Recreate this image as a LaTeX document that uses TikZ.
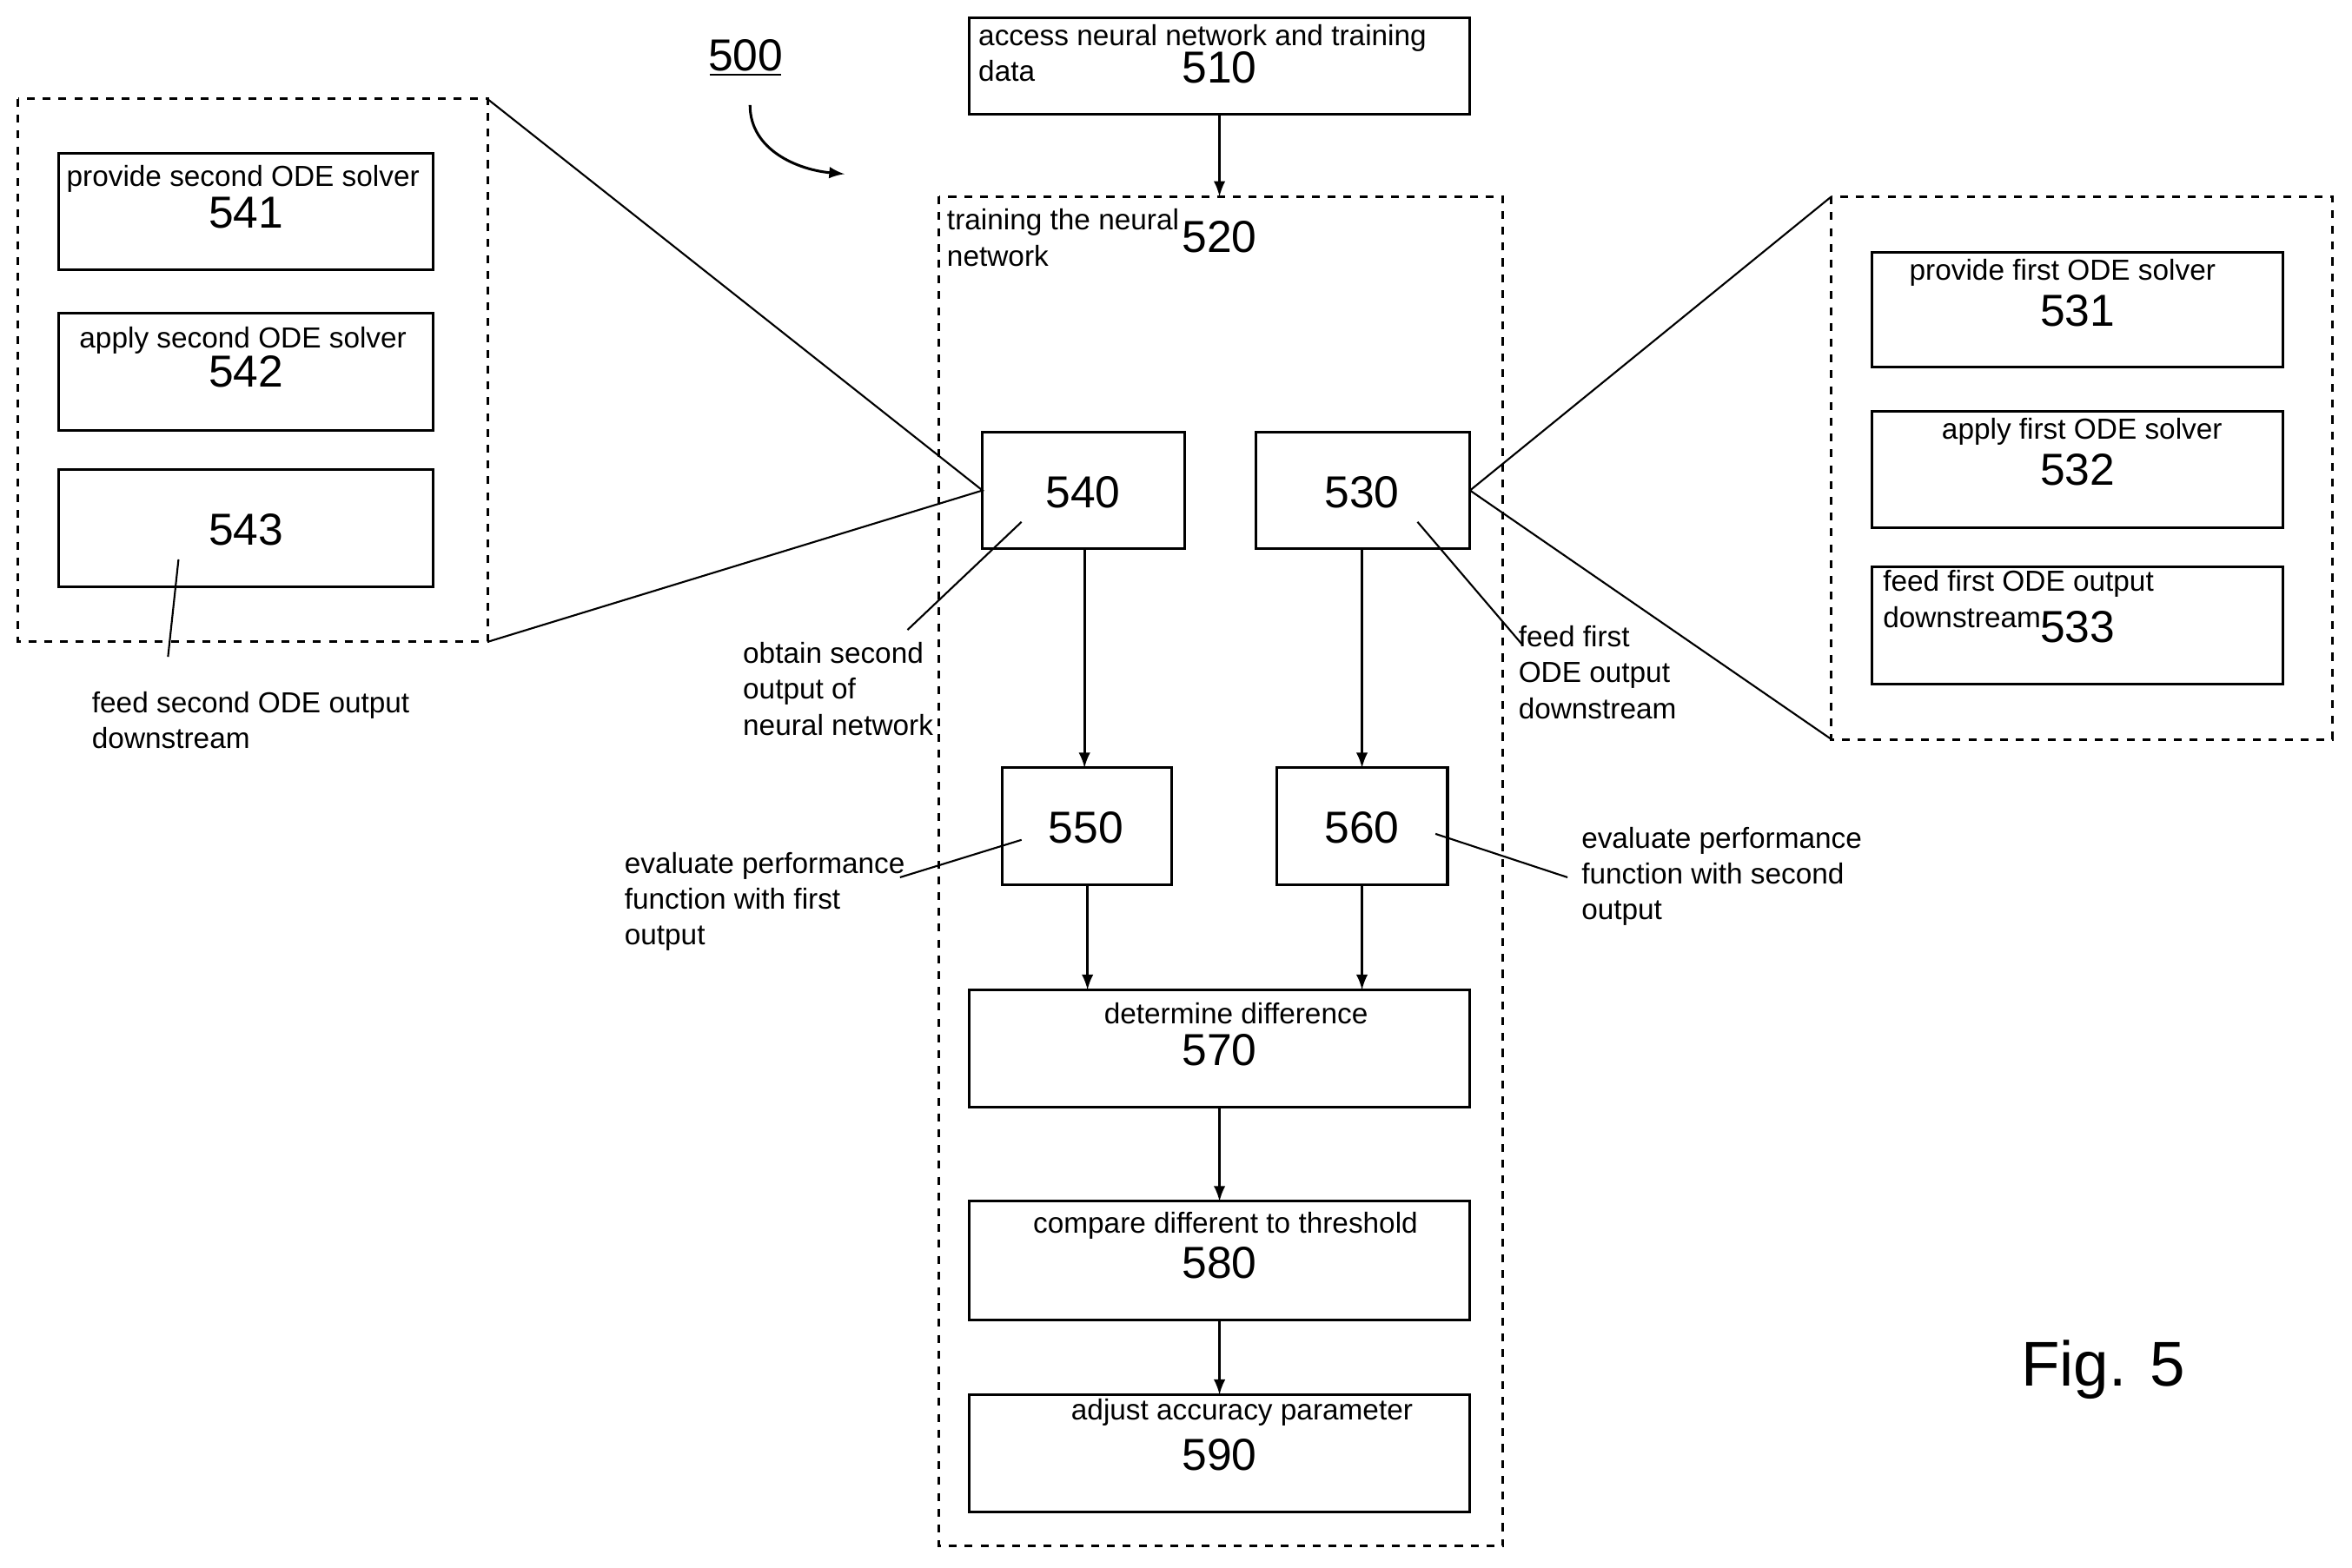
\documentclass[tikz,border=0pt]{standalone}
\usepackage{fontspec}
\setmainfont{Liberation Sans}
\usetikzlibrary{calc}
\begin{document}
\begin{tikzpicture}
		[x=0.02cm, y=-0.02cm,
			box/.style={draw, line width=1pt, inner sep=0pt},
			frame/.style={draw, dashed, line width=1pt},
			num/.style={font=\fontsize{17}{17}\selectfont, inner sep=0pt},
			lbl/.style={font=\fontsize{11}{13.6}\selectfont, inner sep=0pt, align=left},
			flow/.style={->, >=latex, line width=1pt},
			thin/.style={line width=0.7pt}]
		\useasboundingbox (0,0) rectangle (1568,1045);
		% define the boxes
		\draw[box] (646,12) rectangle (980,76) coordinate (b510);
		\draw[frame] (626,131) rectangle (1002,1031);
		\draw[box] (655,288) rectangle (790,366);
		\draw[box] (837,288) rectangle (980,366);
		\draw[box] (668,512) rectangle (781,590);
		\draw[box] (851,512) rectangle (965,590);
		\draw[box] (646,660) rectangle (980,738);
		\draw[box] (646,801) rectangle (980,880);
		\draw[box] (646,930) rectangle (980,1008);
		% zoomed views
		\draw[frame] (12,66) rectangle (325,428);
		\draw[box] (39,102) rectangle (289,180);
		\draw[box] (39,209) rectangle (289,287);
		\draw[box] (39,313) rectangle (289,391);
		\draw[frame] (1221,131) rectangle (1555,493);
		\draw[box] (1248,168) rectangle (1522,245);
		\draw[box] (1248,274) rectangle (1522,352);
		\draw[box] (1248,378) rectangle (1522,456);
		% define anchor points
		\coordinate (s510) at (813,76);
		\coordinate (n520) at (813,131);
		\coordinate (s540) at (723,366);
		\coordinate (n550) at (723,512);
		\coordinate (s530) at (908,366);
		\coordinate (n560) at (908,512);
		\coordinate (s550) at (725,590);
		\coordinate (s560) at (908,590);
		\coordinate (n570a) at (725,660);
		\coordinate (n570b) at (908,660);
		\coordinate (s570) at (813,738);
		\coordinate (n580) at (813,801);
		\coordinate (s580) at (813,880);
		\coordinate (n590) at (813,930);
		\coordinate (w540) at (655,327);
		\coordinate (e530) at (980,327);
		\coordinate (lt) at (325,66);
		\coordinate (lb) at (325,428);
		\coordinate (rt) at (1221,131);
		\coordinate (rb) at (1221,493);
		% the flow arrows
		\draw[flow] (s510) -- (n520);
		\draw[flow] (s540) -- (n550);
		\draw[flow] (s530) -- (n560);
		\draw[flow] (s550) -- (n570a);
		\draw[flow] (s560) -- (n570b);
		\draw[flow] (s570) -- (n580);
		\draw[flow] (s580) -- (n590);
		% zoom lines
		\draw[thin] (lt) -- (w540) -- (lb);
		\draw[thin] (rt) -- (e530) -- (rb);
		% numbers
		\node[num] (t510) at (813,45) {510};
		\node[num] (t520) at (813,158) {520};
		\node[num] (t540) at (722,328) {540};
		\node[num] (t530) at (908,328) {530};
		\node[num] (t550) at (724,552) {550};
		\node[num] (t560) at (908,552) {560};
		\node[num] (t570) at (813,700) {570};
		\node[num] (t580) at (813,842) {580};
		\node[num] (t590) at (813,970) {590};
		\node[num] (t541) at (164,142) {541};
		\node[num] (t542) at (164,248) {542};
		\node[num] (t543) at (164,353) {543};
		\node[num] (t531) at (1385,207) {531};
		\node[num] (t532) at (1385,313) {532};
		\node[num] (t533) at (1385,418) {533};
		% box captions
		\node[lbl, anchor=north west] (c510) at (652,16) {access neural network and training\\data};
		\node[lbl, anchor=north west] (c520) at (631,139) {training the neural\\network};
		\node[lbl] (c570) at (824,676) {determine difference};
		\node[lbl] (c580) at (817,817) {compare different to threshold};
		\node[lbl] (c590) at (828,942) {adjust accuracy parameter};
		\node[lbl] (c541) at (162,119) {provide second ODE solver};
		\node[lbl] (c542) at (162,227) {apply second ODE solver};
		\node[lbl] (c531) at (1375,182) {provide first ODE solver};
		\node[lbl] (c532) at (1388,288) {apply first ODE solver};
		\node[lbl, anchor=north west] (c533) at (1255,380) {feed first ODE output\\downstream};
		% side labels and leaders
		\node[lbl, anchor=north west] (o540) at (495,428) {obtain second\\output of\\neural network};
		\node[lbl, anchor=north west] (o530) at (1012,417) {feed first\\ODE output\\downstream};
		\node[lbl, anchor=north west] (o543) at (61,461) {feed second ODE output\\downstream};
		\node[lbl, anchor=north west] (o550) at (416,568) {evaluate performance\\function with first\\output};
		\node[lbl, anchor=north west] (o560) at (1054,551) {evaluate performance\\function with second\\output};
		\draw[thin] (605,420) -- (681,348);
		\draw[thin] (1015,430) -- (945,348);
		\draw[thin] (112,438) -- (119,373);
		\draw[thin] (600,585) -- (681,560);
		\draw[thin] (1045,585) -- (957,556);
		% figure reference
		\node[num, anchor=south] (t500) at (497,48) {500};
		\draw[thin] (473,50) -- (521,50);
		\draw[flow] (500,70) to[out=-90, in=175] (563,116);
		\node[font=\fontsize{24}{24}\selectfont, inner sep=0pt] (fig) at (1402,913) {Fig. 5};
	\end{tikzpicture}
\end{document}
